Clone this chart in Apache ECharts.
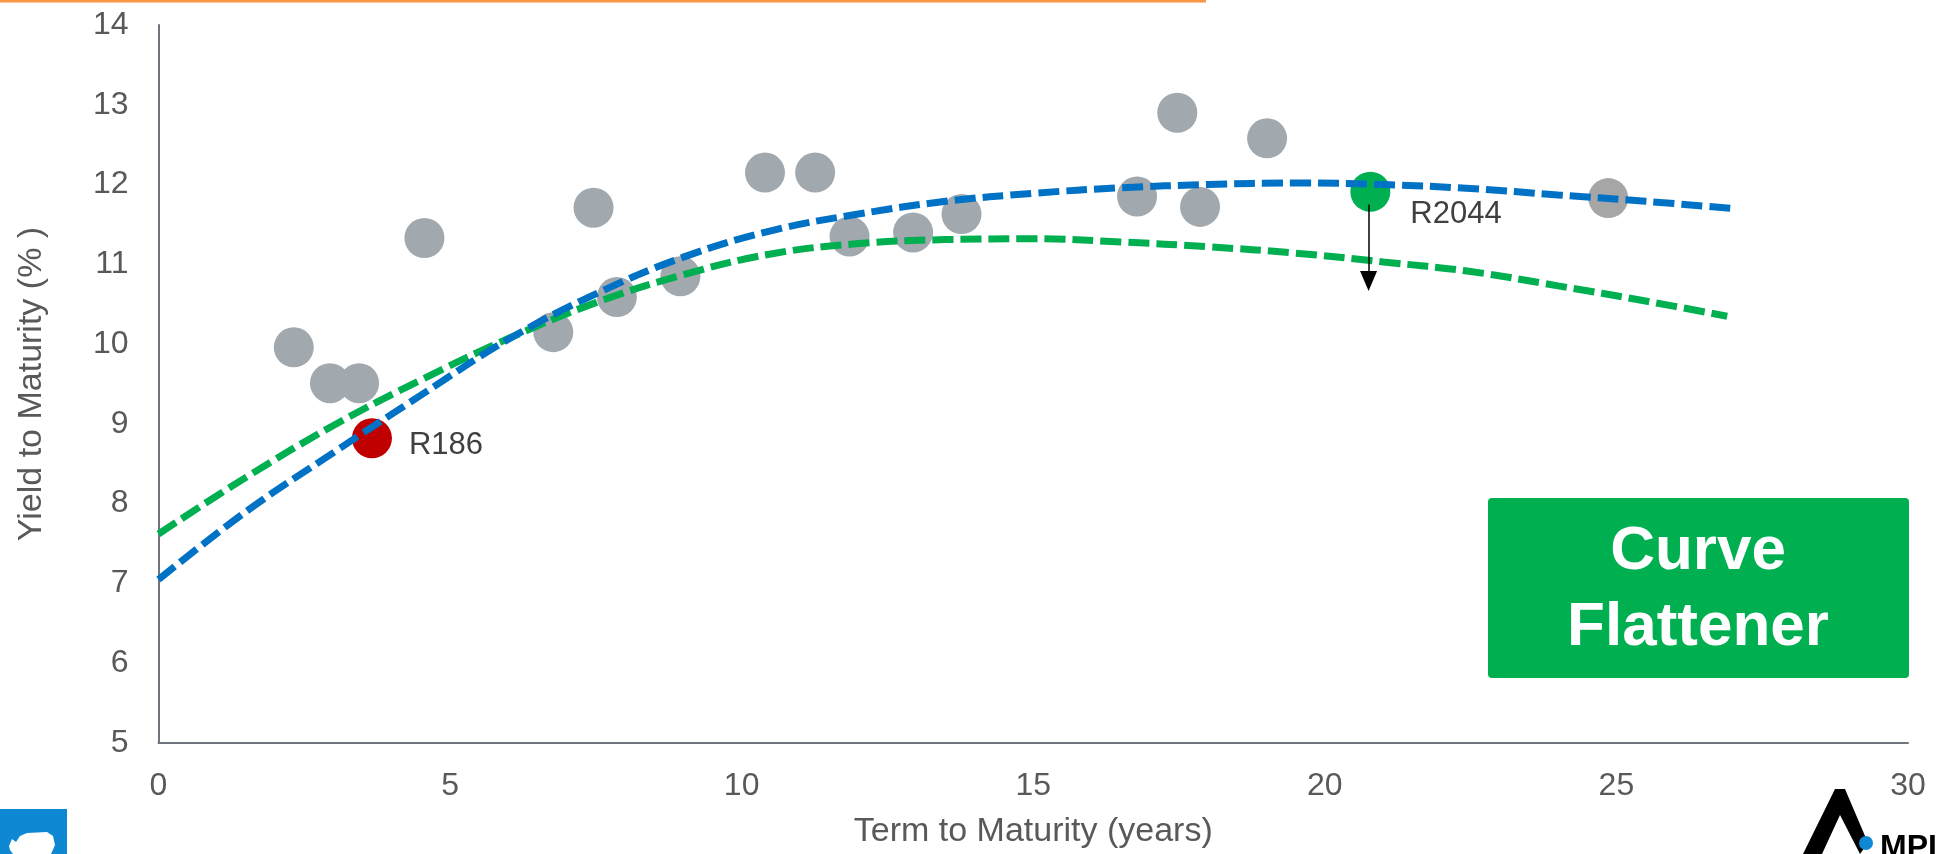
<!DOCTYPE html>
<html>
<head>
<meta charset="utf-8">
<script src="https://cdn.jsdelivr.net/npm/echarts@6/dist/echarts.min.js"></script>
<style>
html,body{margin:0;padding:0;background:#fff;}
#chart{width:1941px;height:854px;}
</style>
</head>
<body>
<div id="chart"></div>
<script>
// ---- data (term in years, yield in %) ----
const xTicks = [0, 5, 10, 15, 20, 25, 30];
const yTicks = [5, 6, 7, 8, 9, 10, 11, 12, 13, 14];
const bondsGray = [
  [2.32, 9.96], [2.94, 9.51], [3.44, 9.51], [4.56, 11.33], [6.77, 10.15],
  [7.46, 11.71], [7.86, 10.59], [8.95, 10.85], [10.40, 12.15], [11.26, 12.15],
  [11.85, 11.35], [12.94, 11.40], [13.77, 11.63], [16.78, 11.85], [17.47, 12.90],
  [17.86, 11.72], [19.01, 12.58]
];
const bondLast = [[24.86, 11.83]];
const bondR186 = [[3.66, 8.82]];
const bondR2044 = [[20.78, 11.91]];
const curveBefore = [
  [0, 7.05], [1.5, 7.9], [3, 8.64], [4.5, 9.36], [6, 10.06], [7.5, 10.63],
  [9, 11.09], [10.5, 11.42], [12, 11.63], [13.5, 11.79], [15, 11.89],
  [16.5, 11.96], [18, 12.0], [19.5, 12.02], [21, 12.0], [22.5, 11.95],
  [24, 11.87], [25.5, 11.79], [27, 11.70]
];
const curveAfter = [
  [0, 7.62], [1.5, 8.33], [3, 8.98], [4.5, 9.55], [6, 10.07], [7.5, 10.52],
  [9, 10.87], [10.5, 11.13], [12, 11.26], [13.5, 11.31], [15, 11.32],
  [16.5, 11.28], [18, 11.22], [19.5, 11.14], [21, 11.03], [22.5, 10.91],
  [24, 10.73], [25.5, 10.54], [26.9, 10.35]
];
const arrowFrom = [20.75, 11.75];
const arrowTo = [20.75, 10.79];

const FONT = '"Liberation Sans", Arial, sans-serif';
const chart = echarts.init(document.getElementById('chart'));
const dashed = (color) => ({ color: color, width: 7, type: [21, 7], cap: 'butt' });

chart.setOption({
  animation: false,
  backgroundColor: '#ffffff',
  grid: { left: 158.5, right: 33, top: 25, bottom: 109, containLabel: false },
  xAxis: {
    type: 'value', min: xTicks[0], max: xTicks[xTicks.length - 1], interval: 5,
    name: 'Term to Maturity (years)', nameLocation: 'middle', nameGap: 72,
    nameTextStyle: { fontFamily: FONT, fontSize: 34, color: '#595959' },
    axisLine: { show: true, lineStyle: { color: '#6E757C', width: 2 } },
    axisTick: { show: false },
    splitLine: { show: false },
    axisLabel: { fontFamily: FONT, fontSize: 32, color: '#595959', margin: 27 }
  },
  yAxis: {
    type: 'value', min: yTicks[0], max: yTicks[yTicks.length - 1], interval: 1,
    name: 'Yield to Maturity (% )', nameLocation: 'middle', nameGap: 110, nameRotate: 90,
    nameTextStyle: { fontFamily: FONT, fontSize: 34, color: '#595959' },
    axisLine: { show: true, lineStyle: { color: '#6E757C', width: 2 } },
    axisTick: { show: false },
    splitLine: { show: false },
    axisLabel: { fontFamily: FONT, fontSize: 32, color: '#595959', margin: 30 }
  },
  series: [
    { type: 'scatter', data: bondsGray, symbolSize: 40, itemStyle: { color: '#A1A8AE', opacity: 1 }, z: 2 },
    { type: 'scatter', data: bondLast, symbolSize: 40, itemStyle: { color: '#A6A6A6', opacity: 1 }, z: 2 },
    { type: 'scatter', data: bondR186, symbolSize: 40, itemStyle: { color: '#C00000', opacity: 1 }, z: 2,
      label: { show: true, formatter: 'R186', position: 'right', distance: 17, offset: [0, 7],
               fontFamily: FONT, fontSize: 31, color: '#404040' } },
    { type: 'scatter', data: bondR2044, symbolSize: 40, itemStyle: { color: '#00B050', opacity: 1 }, z: 2,
      label: { show: true, formatter: 'R2044', position: 'right', distance: 20, offset: [0, 23],
               fontFamily: FONT, fontSize: 31, color: '#404040' } },
    { type: 'line', data: curveAfter, smooth: 0.4, showSymbol: false, symbol: 'none',
      lineStyle: dashed('#00B050'), z: 3 },
    { type: 'line', data: curveBefore, smooth: 0.4, showSymbol: false, symbol: 'none',
      lineStyle: dashed('#0072C6'), z: 4,
      markLine: {
        silent: true, animation: false, symbol: ['none', 'triangle'], symbolSize: [17, 20],
        label: { show: false },
        lineStyle: { color: '#000000', width: 1.5, type: 'solid' },
        data: [[{ coord: arrowFrom }, { coord: arrowTo }]]
      } }
  ],
  graphic: [
    { type: 'rect', shape: { x: 0, y: 0, width: 1206, height: 2.5 }, style: { fill: '#F79646' } },
    { type: 'rect', shape: { x: 1488, y: 498, width: 421, height: 180, r: 4 }, style: { fill: '#00B050' }, z: 10 },
    { type: 'text', x: 1698, y: 590, z: 11,
      style: { text: 'Curve\nFlattener', fill: '#ffffff', font: 'bold 62px "Liberation Sans", Arial, sans-serif',
               align: 'center', verticalAlign: 'middle', lineHeight: 76 } },
    // bottom-left logo
    { type: 'rect', shape: { x: 0, y: 809, width: 67, height: 45 }, style: { fill: '#0E88D3' } },
    { type: 'polygon', shape: { points: [[9, 846], [12, 839], [16, 842], [20, 836], [27, 833], [47, 832], [53, 836], [55, 845], [51, 854], [13, 854], [10, 850]] },
      style: { fill: '#ffffff' } },
    // bottom-right logo
    { type: 'polygon', shape: { points: [[1803, 854], [1835, 789], [1845, 789], [1868, 843], [1860, 854], [1840, 815], [1822, 854]] },
      style: { fill: '#000000' } },
    { type: 'circle', shape: { cx: 1866, cy: 843, r: 7 }, style: { fill: '#0E88D3' } },
    { type: 'text', x: 1880, y: 832, style: { text: 'MPI', fill: '#000000', font: 'bold 32px "Liberation Sans", Arial, sans-serif', align: 'left', verticalAlign: 'top' } }
  ]
});
</script>
</body>
</html>
